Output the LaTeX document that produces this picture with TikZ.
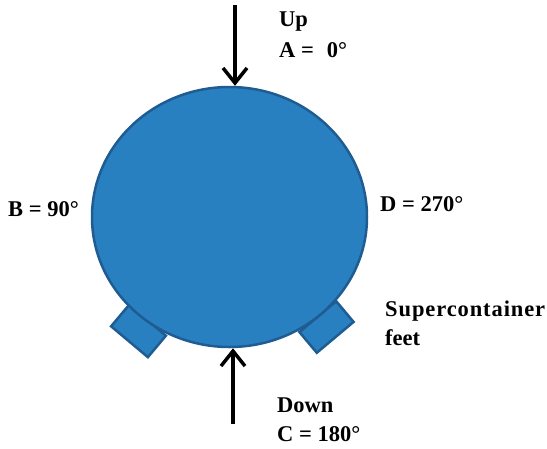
\documentclass[tikz,border=0pt]{standalone}
\usepackage{fontspec}
\setmainfont{Liberation Serif}
\usetikzlibrary{shapes.geometric,arrows.meta}
\definecolor{tankfill}{RGB}{41,128,193}
\definecolor{tankline}{RGB}{30,92,146}
\tikzset{
  tankbody/.style={ellipse,draw=tankline,fill=tankfill,line width=2.5pt,inner sep=0pt},
  footbox/.style={rectangle,draw=tankline,fill=tankfill,line width=2.5pt,inner sep=0pt},
  forcearrow/.style={line width=3.5pt,-{Straight Barb[length=15pt,width=24pt,line width=3.5pt]}},
  lbl/.style={anchor=base west,inner sep=0pt,font=\bfseries\fontsize{22.5pt}{27pt}\selectfont}
}
\begin{document}
\begin{tikzpicture}[x=1pt,y=-1pt]
\useasboundingbox (0,0) rectangle (547,448);
% feet (behind the tank)
\node[footbox,minimum width=48pt,minimum height=28pt,rotate=-40] (lfoot) at (138.5,331) {};
\node[footbox,minimum width=48pt,minimum height=27pt,rotate=40] (rfoot) at (326.5,327) {};
% tank
\node[tankbody,minimum width=275pt,minimum height=260pt] (tank) at (229.5,217) {};
% arrows
\coordinate (ustart) at (235,5);
\coordinate (dstart) at (233,424);
\draw[forcearrow] (ustart) -- (ustart |- tank.north);
\draw[forcearrow] (dstart) -- (dstart |- tank.south);
% labels
\node[lbl] (up) at (279,26) {Up};
\node[lbl] (aval) at (279,57) {A =\hspace{13pt}0°};
\node[lbl] (bval) at (8,216) {B = 90°};
\node[lbl] (dval) at (380,211) {D = 270°};
\node[lbl] (sup) at (385,316.5) {\addfontfeature{LetterSpace=4}Supercontainer};
\node[lbl] (feet) at (385,345) {feet};
\node[lbl] (down) at (277,412.5) {Down};
\node[lbl] (cval) at (277,441.5) {C = 180°};
\end{tikzpicture}
\end{document}
